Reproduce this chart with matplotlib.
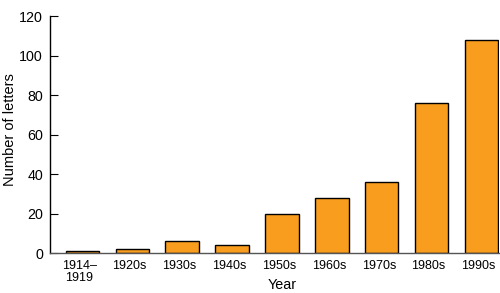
import matplotlib
matplotlib.use("Agg")
import matplotlib.pyplot as plt
import matplotlib.transforms as mtransforms

# Data
periods = ["1914–\n1919", "1920s", "1930s", "1940s", "1950s", "1960s", "1970s", "1980s", "1990s"]
letters = [1, 2, 6, 4, 20, 28, 36, 76, 108]
yticks = [0, 20, 40, 60, 80, 100, 120]

plt.rcParams["font.family"] = ["Liberation Sans", "DejaVu Sans"]

fig = plt.figure(figsize=(5, 2.93), dpi=100)
ax = fig.add_axes([0.1, 0.1365, 0.898, 0.8085])

x = range(len(periods))
ax.bar(x, letters, width=0.67, color="#F99D1E", edgecolor="black", linewidth=1.0)

ax.set_xlim(-0.65, 8.35)
ax.set_ylim(0, 120)
ax.set_yticks(yticks)
ax.set_xticks(list(x))
ax.set_xticklabels(periods, linespacing=1.05)
ax.tick_params(axis="y", direction="in", length=6, width=0.8, pad=5, labelsize=10.3, colors="black")
ax.tick_params(axis="x", length=0, pad=5, labelsize=9)

# x labels sit a touch left of the bar centres in the original
shift = mtransforms.ScaledTranslation(-3 / 100, 0, fig.dpi_scale_trans)
for lab in ax.get_xticklabels():
    lab.set_transform(lab.get_transform() + shift)

for side in ["top", "right"]:
    ax.spines[side].set_visible(False)
ax.spines["left"].set_linewidth(1.0)
ax.spines["bottom"].set_linewidth(1.0)
ax.spines["bottom"].set_color("#555555")

# axis titles placed in figure pixels
fig.text(282 / 500, 1 - 285 / 293, "Year", ha="center", va="center", fontsize=10.3)
fig.text(10.5 / 500, 1 - 130 / 293, "Number of letters", ha="center", va="center",
         rotation=90, fontsize=10.5)

fig.savefig("out.png", dpi=100)
